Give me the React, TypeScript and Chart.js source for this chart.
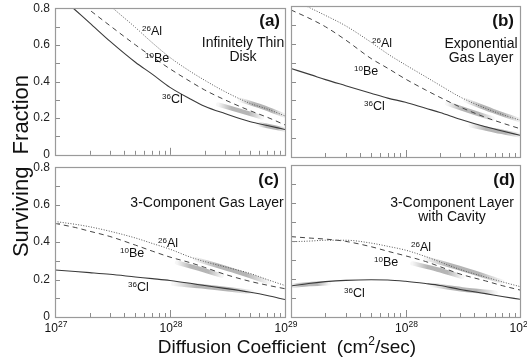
import React, { useEffect, useRef } from 'react';
import { Chart, registerables } from 'chart.js';

Chart.register(...registerables);

const FONT = "'Liberation Sans', Arial, Helvetica, sans-serif";

// Diffusion coefficient grid (cm^2/sec)
const diffusion = [1e27, 1.5e27, 2e27, 3e27, 5e27, 7e27, 1e28, 1.5e28, 2e28, 3e28, 5e28, 7e28, 1e29];
const xExponents = [27, 28, 29];
const yTickStep = 0.2;

// (a) Infinitely Thin Disk
const aAl = [1.1, 1.0, 0.92, 0.815, 0.695, 0.612, 0.531, 0.455, 0.407, 0.345, 0.28, 0.25, 0.212];
const aBe = [0.93, 0.85, 0.79, 0.705, 0.6, 0.535, 0.469, 0.4, 0.354, 0.3, 0.24, 0.205, 0.163];
const aCl = [0.89, 0.79, 0.72, 0.62, 0.505, 0.44, 0.368, 0.305, 0.265, 0.225, 0.18, 0.16, 0.138];

// (b) Exponential Gas Layer
const bAl = [0.84, 0.787, 0.75, 0.695, 0.608, 0.546, 0.488, 0.425, 0.38, 0.318, 0.258, 0.225, 0.195];
const bBe = [0.779, 0.73, 0.69, 0.62, 0.522, 0.47, 0.413, 0.355, 0.316, 0.265, 0.21, 0.18, 0.15];
const bCl = [0.469, 0.435, 0.41, 0.378, 0.338, 0.312, 0.29, 0.258, 0.236, 0.2, 0.16, 0.138, 0.115];

// (c) 3-Component Gas Layer
const cAl = [0.51, 0.495, 0.482, 0.458, 0.422, 0.393, 0.362, 0.32, 0.296, 0.268, 0.232, 0.2, 0.168];
const cBe = [0.5, 0.478, 0.458, 0.43, 0.384, 0.352, 0.32, 0.29, 0.265, 0.228, 0.19, 0.17, 0.151];
const cCl = [0.251, 0.243, 0.237, 0.228, 0.214, 0.205, 0.195, 0.18, 0.168, 0.153, 0.132, 0.115, 0.093];

// (d) 3-Component Layer with Cavity
const dAl = [0.396, 0.4, 0.404, 0.404, 0.389, 0.372, 0.352, 0.318, 0.29, 0.25, 0.21, 0.185, 0.16];
const dBe = [0.423, 0.415, 0.41, 0.398, 0.37, 0.346, 0.322, 0.292, 0.265, 0.226, 0.19, 0.165, 0.142];
const dCl = [0.163, 0.178, 0.186, 0.193, 0.196, 0.195, 0.188, 0.176, 0.166, 0.145, 0.123, 0.108, 0.093];

// Shaded bands (D values, surviving fraction)
const aAlBandD = [4.07e28, 6.31e28, 1e29];
const aAlBand = [0.3, 0.262, 0.213];
const aBeBandD = [2.63e28, 4.07e28, 6.31e28];
const aBeBand = [0.274, 0.24, 0.204];
const aClBandD = [5.89e28, 7.59e28, 1e29];
const aClBand = [0.168, 0.153, 0.138];

const bAlBandD = [3.35e28, 5.75e28, 1e29];
const bAlBand = [0.3, 0.245, 0.195];
const bBeBandD = [2.32e28, 3.63e28, 5.75e28];
const bBeBand = [0.283, 0.243, 0.204];
const bClBandD = [3.72e28, 6.03e28, 1e29];
const bClBand = [0.168, 0.14, 0.115];

const cAlBandD = [1.66e28, 3.47e28, 7.16e28];
const cAlBand = [0.309, 0.25, 0.186];
const cBeBandD = [1.15e28, 1.78e28, 2.82e28];
const cBeBand = [0.291, 0.258, 0.221];
const cClBandD = [1.07e28, 2.34e28, 5.13e28];
const cClBand = [0.177, 0.158, 0.133];

const dAlBandD = [1.5e28, 3.24e28, 7.0e28];
const dAlBand = [0.309, 0.25, 0.186];
const dBeBandD = [1.15e28, 1.9e28, 3.13e28];
const dBeBand = [0.282, 0.25, 0.212];
const dCl1BandD = [1e27, 1.45e27, 2.14e27];
const dCl1Band = [0.163, 0.173, 0.178];
const dCl2BandD = [1.71e28, 3.16e28, 6.12e28];
const dCl2Band = [0.168, 0.145, 0.128];

type Band = { d: number[]; v: number[] };
type Iso = { mass: string; el: string; x: number; y: number };
type Txt = { t: string; x: number; y: number; align: CanvasTextAlign; bold?: boolean; size: number };

type Spec = {
  left: number; top: number; width: number; height: number;
  yAxisW: number; xAxisH: number; yLabels: boolean; xLabelExps: number[];
  al: number[]; be: number[]; cl: number[]; bands: Band[];
  isos: Iso[]; texts: Txt[];
};

const panels: Spec[] = [
  {
    left: 0, top: -4, width: 299, height: 171, yAxisW: 55, xAxisH: 10, yLabels: true, xLabelExps: [],
    al: aAl, be: aBe, cl: aCl,
    bands: [{ d: aAlBandD, v: aAlBand }, { d: aBeBandD, v: aBeBand }, { d: aClBandD, v: aClBand }],
    isos: [
      { mass: '26', el: 'Al', x: 142, y: 35 },
      { mass: '10', el: 'Be', x: 145, y: 62 },
      { mass: '36', el: 'Cl', x: 162, y: 103 },
    ],
    texts: [
      { t: '(a)', x: 280, y: 26, align: 'right', bold: true, size: 17 },
      { t: 'Infinitely Thin', x: 243, y: 47, align: 'center', size: 14 },
      { t: 'Disk', x: 243, y: 61, align: 'center', size: 14 },
    ],
  },
  {
    left: 287, top: -4, width: 247, height: 171, yAxisW: 4, xAxisH: 10, yLabels: false, xLabelExps: [],
    al: bAl, be: bBe, cl: bCl,
    bands: [{ d: bAlBandD, v: bAlBand }, { d: bBeBandD, v: bBeBand }, { d: bClBandD, v: bClBand }],
    isos: [
      { mass: '26', el: 'Al', x: 372, y: 47 },
      { mass: '10', el: 'Be', x: 354, y: 75 },
      { mass: '36', el: 'Cl', x: 364, y: 110 },
    ],
    texts: [
      { t: '(b)', x: 514, y: 26, align: 'right', bold: true, size: 17 },
      { t: 'Exponential', x: 481, y: 48, align: 'center', size: 14 },
      { t: 'Gas Layer', x: 481, y: 62, align: 'center', size: 14 },
    ],
  },
  {
    left: 0, top: 155, width: 299, height: 186, yAxisW: 55, xAxisH: 24, yLabels: true, xLabelExps: xExponents,
    al: cAl, be: cBe, cl: cCl,
    bands: [{ d: cAlBandD, v: cAlBand }, { d: cBeBandD, v: cBeBand }, { d: cClBandD, v: cClBand }],
    isos: [
      { mass: '26', el: 'Al', x: 158, y: 247 },
      { mass: '10', el: 'Be', x: 120, y: 257 },
      { mass: '36', el: 'Cl', x: 128, y: 291 },
    ],
    texts: [
      { t: '(c)', x: 279, y: 185, align: 'right', bold: true, size: 17 },
      { t: '3-Component Gas Layer', x: 207, y: 207, align: 'center', size: 14 },
    ],
  },
  {
    left: 287, top: 155, width: 247, height: 186, yAxisW: 4, xAxisH: 24, yLabels: false, xLabelExps: xExponents.slice(1),
    al: dAl, be: dBe, cl: dCl,
    bands: [
      { d: dAlBandD, v: dAlBand }, { d: dBeBandD, v: dBeBand },
      { d: dCl1BandD, v: dCl1Band }, { d: dCl2BandD, v: dCl2Band },
    ],
    isos: [
      { mass: '26', el: 'Al', x: 411, y: 251 },
      { mass: '10', el: 'Be', x: 374, y: 266 },
      { mass: '36', el: 'Cl', x: 344, y: 297 },
    ],
    texts: [
      { t: '(d)', x: 515, y: 185, align: 'right', bold: true, size: 17 },
      { t: '3-Component Layer', x: 452, y: 207, align: 'center', size: 14 },
      { t: 'with Cavity', x: 452, y: 221, align: 'center', size: 14 },
    ],
  },
];

function bandColor(b: Band) {
  return (c: any) => {
    const chart = c.chart;
    const xs = chart.scales && chart.scales.x;
    const fallback = 'rgba(85,85,85,0.35)';
    if (!xs) return fallback;
    const x0 = xs.getPixelForValue(b.d[0]);
    const x1 = xs.getPixelForValue(b.d[b.d.length - 1]);
    if (!isFinite(x0) || !isFinite(x1) || x1 <= x0) return fallback;
    const g = chart.ctx.createLinearGradient(x0, 0, x1, 0);
    g.addColorStop(0, 'rgba(80,80,80,0.05)');
    g.addColorStop(0.3, 'rgba(80,80,80,0.42)');
    g.addColorStop(0.7, 'rgba(80,80,80,0.42)');
    g.addColorStop(1, 'rgba(80,80,80,0.05)');
    return g;
  };
}

function Panel({ s }: { s: Spec }) {
  const ref = useRef<HTMLCanvasElement>(null);
  useEffect(() => {
    const mk = (vals: number[]) => diffusion.map((d, i) => ({ x: d, y: vals[i] }));
    const line = { pointRadius: 0, fill: false, cubicInterpolationMode: 'monotone' as const };
    const overlay = {
      id: 'overlay' + s.left + '_' + s.top,
      afterDatasetsDraw(chart: any) {
        const { ctx, chartArea: a, scales } = chart;
        const xs = scales.x;
        const ys = scales.y;
        ctx.save();
        ctx.strokeStyle = '#8c8c8c';
        ctx.lineWidth = 1;
        ctx.beginPath();
        for (const e of [27, 28]) {
          for (let m = 1; m < 10; m++) {
            const px = Math.round(xs.getPixelForValue(m * Math.pow(10, e))) + 0.5;
            const len = m === 1 ? 7 : 4;
            ctx.moveTo(px, a.bottom);
            ctx.lineTo(px, a.bottom - len);
          }
        }
        for (let k = 1; k < 8; k++) {
          const py = Math.round(ys.getPixelForValue(k * 0.1)) + 0.5;
          ctx.moveTo(a.left, py);
          ctx.lineTo(a.left + 5, py);
        }
        ctx.stroke();
        ctx.strokeStyle = '#9a9a9a';
        ctx.lineWidth = 1.2;
        ctx.strokeRect(Math.round(a.left) + 0.5, Math.round(a.top) + 0.5, Math.round(a.right - a.left), Math.round(a.bottom - a.top));

        ctx.fillStyle = '#111';
        ctx.textBaseline = 'alphabetic';
        for (const e of s.xLabelExps) {
          const px = xs.getPixelForValue(Math.pow(10, e));
          ctx.font = `12px ${FONT}`;
          const w1 = ctx.measureText('10').width;
          ctx.font = `8.5px ${FONT}`;
          const w2 = ctx.measureText(String(e)).width;
          const x0 = px - (w1 + w2) / 2 + 1;
          const by = 332 - s.top;
          ctx.textAlign = 'left';
          ctx.font = `12px ${FONT}`;
          ctx.fillText('10', x0, by);
          ctx.font = `8.5px ${FONT}`;
          ctx.fillText(String(e), x0 + w1, by - 5.5);
        }
        for (const iso of s.isos) {
          ctx.textAlign = 'left';
          ctx.font = `8px ${FONT}`;
          const x = iso.x - s.left;
          const y = iso.y - s.top;
          ctx.fillText(iso.mass, x, y - 4.5);
          const w = ctx.measureText(iso.mass).width;
          ctx.font = `12.5px ${FONT}`;
          ctx.fillText(iso.el, x + w, y);
        }
        for (const t of s.texts) {
          ctx.textAlign = t.align;
          ctx.font = `${t.bold ? 'bold ' : ''}${t.size}px ${FONT}`;
          ctx.fillText(t.t, t.x - s.left, t.y - s.top);
        }
        ctx.restore();
      },
    };
    const chart = new Chart(ref.current as HTMLCanvasElement, {
      type: 'line',
      data: {
        datasets: [
          { ...line, data: mk(s.al), borderColor: '#555', borderWidth: 1, borderDash: [1, 1.6] },
          { ...line, data: mk(s.be), borderColor: '#444', borderWidth: 1, borderDash: [5, 4] },
          { ...line, data: mk(s.cl), borderColor: '#3a3a3a', borderWidth: 1.1 },
          ...s.bands.map((b) => ({
            ...line,
            data: b.d.map((d, i) => ({ x: d, y: b.v[i] })),
            borderWidth: 4.5,
            borderCapStyle: 'round' as const,
            borderColor: bandColor(b),
          })),
        ],
      } as any,
      options: {
        responsive: false,
        animation: false,
        events: [],
        layout: { padding: { top: 10, right: 14, bottom: 0, left: 0 } },
        plugins: { legend: { display: false }, tooltip: { enabled: false } },
        scales: {
          x: {
            type: 'logarithmic', min: 1e27, max: 1e29,
            grid: { display: false, drawTicks: false }, border: { display: false },
            ticks: { display: false },
            afterFit: (sc: any) => { sc.height = s.xAxisH; },
          },
          y: {
            type: 'linear', min: 0, max: 0.8,
            grid: { display: false, drawTicks: false }, border: { display: false },
            ticks: {
              display: s.yLabels, stepSize: yTickStep, padding: 5, color: '#222',
              font: { family: FONT, size: 12 },
              callback: (v: any) => (Number(v) === 0 ? '0' : Number(v).toFixed(1)),
            },
            afterFit: (sc: any) => { sc.width = s.yAxisW; },
          },
        },
      } as any,
      plugins: [overlay],
    });
    return () => chart.destroy();
  }, []);
  return (
    <canvas
      ref={ref}
      width={s.width}
      height={s.height}
      style={{ position: 'absolute', left: s.left, top: s.top, width: s.width, height: s.height }}
    />
  );
}

export default function App() {
  return (
    <div style={{ position: 'fixed', left: 0, top: 0, width: 527, height: 362, overflow: 'hidden', background: '#fff' }}>
      {panels.map((p, i) => <Panel key={i} s={p} />)}
      <div
        style={{
          position: 'absolute', left: 21 - 120, top: 166 - 11, width: 240, height: 22,
          lineHeight: '22px', fontSize: 22, fontFamily: FONT, textAlign: 'center',
          transform: 'rotate(-90deg)', whiteSpace: 'pre', color: '#111',
        }}
      >
        Surviving  Fraction
      </div>
      <div
        style={{
          position: 'absolute', left: 287 - 200, top: 336.5, width: 400, height: 19,
          lineHeight: '19px', fontSize: 19, fontFamily: FONT, textAlign: 'center',
          whiteSpace: 'pre', color: '#111',
        }}
      >
        {'Diffusion Coefficient  (cm'}
        <span style={{ fontSize: 12, position: 'relative', top: -8, lineHeight: 0 }}>2</span>
        {'/sec)'}
      </div>
    </div>
  );
}
